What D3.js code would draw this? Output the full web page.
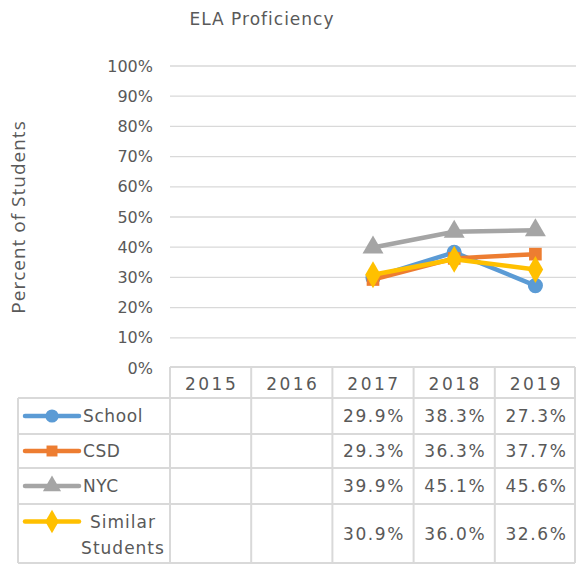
<!DOCTYPE html>
<html>
<head>
<meta charset="utf-8">
<script src="https://cdn.jsdelivr.net/npm/d3@7"></script>
<style>
  body { margin: 0; background: #fff; }
  text { font-family: "DejaVu Sans", sans-serif; fill: #595959; }
</style>
</head>
<body>
<div id="canvas"></div>
<script>
// data
const years = ["2015", "2016", "2017", "2018", "2019"];
const seriesNames = ["School", "CSD", "NYC", "Similar Students"];
const school = [null, null, 0.299, 0.383, 0.273];
const csd = [null, null, 0.293, 0.363, 0.377];
const nyc = [null, null, 0.399, 0.451, 0.456];
const similar = [null, null, 0.309, 0.360, 0.326];
const yTicks = [0, 0.1, 0.2, 0.3, 0.4, 0.5, 0.6, 0.7, 0.8, 0.9, 1.0];

const colors = ["#5B9BD5", "#ED7D31", "#A5A5A5", "#FFC000"];
const symbols = [d3.symbolCircle, d3.symbolSquare, d3.symbolTriangle, d3.symbolDiamond];
const symSizes = [180, 160, 190, 210];
const allSeries = [school, csd, nyc, similar];

const width = 576, height = 565;
const svg = d3.select("#canvas").append("svg")
    .attr("width", width).attr("height", height);

const x = d3.scaleBand().domain(years).range([170, 576]);
const y = d3.scaleLinear().domain([0, 1]).range([368, 66]);

// title
svg.append("text")
    .attr("x", 262).attr("y", 25)
    .attr("text-anchor", "middle")
    .style("font-size", "17px")
    .style("letter-spacing", "1px")
    .text("ELA Proficiency");

// y label
svg.append("text")
    .attr("transform", "translate(25,217) rotate(-90)")
    .attr("text-anchor", "middle")
    .style("font-family", "'Open Sans', sans-serif")
    .style("font-size", "19px")
    .style("letter-spacing", "1px")
    .text("Percent of Students");

// gridlines
svg.append("g").selectAll("line").data(yTicks.slice(1)).enter().append("line")
    .attr("x1", 170).attr("x2", 576)
    .attr("y1", d => y(d)).attr("y2", d => y(d))
    .attr("stroke", "#D9D9D9").attr("stroke-width", 1.3);

// y axis
const yAxis = svg.append("g")
    .attr("transform", "translate(158,0)")
    .call(d3.axisLeft(y).tickValues(yTicks).tickFormat(d3.format(".0%")).tickSize(0).tickPadding(5));
yAxis.select(".domain").remove();
yAxis.selectAll("text")
    .style("font-size", "16px")
    .style("font-family", "'DejaVu Sans', sans-serif")
    .attr("fill", "#595959");

// lines + markers
const line = d3.line()
    .defined(d => d != null)
    .x((d, i) => x(years[i]) + x.bandwidth() / 2)
    .y(d => y(d));

allSeries.forEach((s, k) => {
    svg.append("path")
        .datum(s)
        .attr("d", line)
        .attr("fill", "none")
        .attr("stroke", colors[k])
        .attr("stroke-width", 4.5)
        .attr("stroke-linejoin", "round")
        .attr("stroke-linecap", "round");
    svg.append("g").selectAll("path")
        .data(s.map((v, i) => ({ v, i })).filter(d => d.v != null))
        .enter().append("path")
        .attr("d", d3.symbol().type(symbols[k]).size(symSizes[k]))
        .attr("transform", d => `translate(${x(years[d.i]) + x.bandwidth() / 2},${y(d.v)})`)
        .attr("fill", colors[k]);
});

// data table
const rowTops = [367, 398, 434, 468, 504, 563];
const tbl = svg.append("g");
const grid = "#D9D9D9";

// horizontal lines
tbl.selectAll("line.h").data(rowTops).enter().append("line")
    .attr("x1", (d, i) => i === 0 ? 170 : 18).attr("x2", 575)
    .attr("y1", d => d).attr("y2", d => d)
    .attr("stroke", grid).attr("stroke-width", 2);
// vertical lines
const vx = [170].concat(years.map(yr => x(yr) + x.bandwidth()));
vx[vx.length - 1] = 575;
tbl.selectAll("line.v").data(vx).enter().append("line")
    .attr("x1", d => d).attr("x2", d => d)
    .attr("y1", 367).attr("y2", 563)
    .attr("stroke", grid).attr("stroke-width", 2);
tbl.append("line")
    .attr("x1", 18).attr("x2", 18).attr("y1", 398).attr("y2", 563)
    .attr("stroke", grid).attr("stroke-width", 2);

// year header
tbl.selectAll("text.yr").data(years).enter().append("text")
    .attr("x", d => x(d) + x.bandwidth() / 2 + 1)
    .attr("y", 390)
    .attr("text-anchor", "middle")
    .style("font-size", "17px")
    .style("letter-spacing", "2.5px")
    .text(d => d);

// rows
const fmt = d3.format(".1%");
allSeries.forEach((s, k) => {
    const cy = (rowTops[k + 1] + rowTops[k + 2]) / 2;
    s.forEach((v, i) => {
        if (v == null) return;
        tbl.append("text")
            .attr("x", x(years[i]) + x.bandwidth() / 2 + 1)
            .attr("y", cy + 6)
            .attr("text-anchor", "middle")
            .style("font-size", "17px")
            .style("letter-spacing", "1.6px")
            .text(fmt(v));
    });
    // legend key
    const ky = k === 3 ? cy - 12 : cy;
    tbl.append("line")
        .attr("x1", 25).attr("x2", 79).attr("y1", ky).attr("y2", ky)
        .attr("stroke", colors[k]).attr("stroke-width", 4.5)
        .attr("stroke-linecap", "round");
    tbl.append("path")
        .attr("d", d3.symbol().type(symbols[k]).size(symSizes[k] * 0.75))
        .attr("transform", `translate(52,${ky})`)
        .attr("fill", colors[k]);
    if (k === 3) {
        tbl.append("text").attr("x", 123).attr("y", cy - 6)
            .attr("text-anchor", "middle").style("font-size", "17px")
            .style("letter-spacing", "1px").text("Similar");
        tbl.append("text").attr("x", 123).attr("y", cy + 20)
            .attr("text-anchor", "middle").style("font-size", "17px")
            .style("letter-spacing", "1px").text("Students");
    } else {
        tbl.append("text").attr("x", 83).attr("y", cy + 6)
            .style("font-size", "17px")
            .style("letter-spacing", "0.6px")
            .text(seriesNames[k]);
    }
});
</script>
</body>
</html>
